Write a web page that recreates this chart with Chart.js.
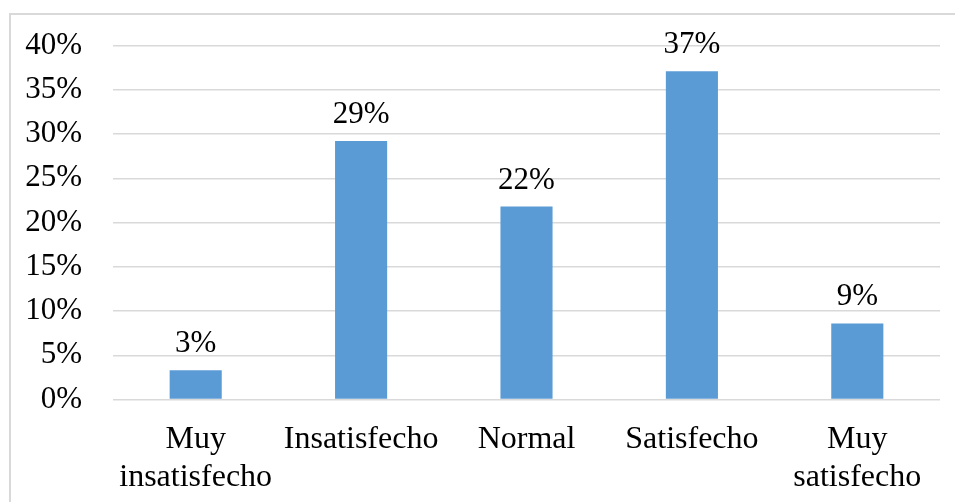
<!DOCTYPE html>
<html>
<head>
<meta charset="utf-8">
<script src="https://cdn.jsdelivr.net/npm/chart.js@4"></script>
<style>
  html, body { margin: 0; padding: 0; background: #fff; overflow: hidden; }
  canvas { display: block; }
</style>
</head>
<body>
<canvas id="c" width="955" height="502"></canvas>
<script>
const categories = [["Muy", "insatisfecho"], "Insatisfecho", "Normal", "Satisfecho", ["Muy", "satisfecho"]];
const values = [3.3, 29.2, 21.8, 37.1, 8.6];
const yTicks = { min: 0, max: 40, step: 5 };

const FONT = "'Liberation Serif', 'Times New Roman', serif";

const frame = {
  id: 'frame',
  beforeDraw(chart) {
    const ctx = chart.ctx;
    ctx.save();
    ctx.strokeStyle = '#d9d9d9';
    ctx.lineWidth = 2;
    ctx.beginPath();
    ctx.moveTo(10, chart.height);
    ctx.lineTo(10, 14);
    ctx.lineTo(chart.width, 14);
    ctx.stroke();
    ctx.restore();
  }
};

const valueLabels = {
  id: 'valueLabels',
  afterDatasetsDraw(chart) {
    const ctx = chart.ctx;
    ctx.save();
    ctx.font = "31px " + FONT;
    ctx.fillStyle = '#000';
    ctx.textAlign = 'center';
    ctx.textBaseline = 'alphabetic';
    chart.getDatasetMeta(0).data.forEach((bar, i) => {
      ctx.fillText(Math.round(values[i]) + '%', bar.x, bar.y - 18);
    });
    ctx.restore();
  }
};

new Chart(document.getElementById('c'), {
  type: 'bar',
  data: {
    labels: categories,
    datasets: [{
      data: values,
      backgroundColor: '#5B9BD5',
      barPercentage: 0.63,
      categoryPercentage: 0.5
    }]
  },
  options: {
    responsive: false,
    animation: false,
    devicePixelRatio: 1,
    layout: { padding: { left: 0, right: 15, top: 45.5, bottom: 0 } },
    plugins: { legend: { display: false }, tooltip: { enabled: false } },
    scales: {
      x: {
        grid: { display: false, drawTicks: false },
        border: { display: false },
        ticks: { color: '#000', font: { family: FONT, size: 32, lineHeight: 1.16 }, padding: 22, maxRotation: 0, autoSkip: false },
        afterFit(s) { s.height = 102.5; }
      },
      y: {
        min: yTicks.min, max: yTicks.max,
        grid: { color: '#d9d9d9', lineWidth: 1.5, drawTicks: false },
        border: { display: false },
        ticks: { stepSize: yTicks.step, color: '#000', font: { family: FONT, size: 31 }, padding: 31, callback: v => v + '%' },
        afterFit(s) { s.width = 113; s.paddingTop = 0; s.paddingBottom = 0; }
      }
    }
  },
  plugins: [frame, valueLabels]
});
</script>
</body>
</html>
